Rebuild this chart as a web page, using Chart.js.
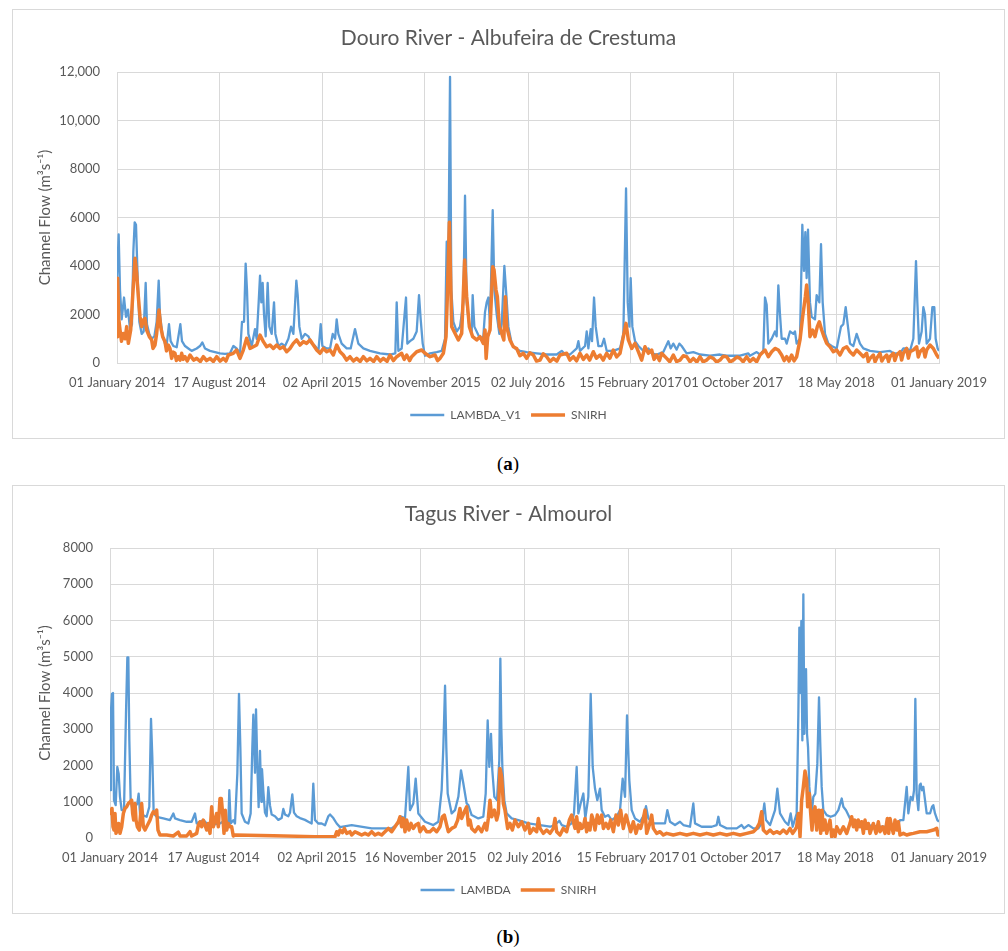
<!DOCTYPE html>
<html>
<head>
<meta charset="utf-8">
<script src="https://cdn.jsdelivr.net/npm/chart.js@4"></script>
<style>
  body { margin: 0; background: #fff; width: 1008px; height: 951px; position: relative; overflow: hidden; }
  .box { position: absolute; left: 12px; width: 991px; border: 1px solid #d9d9d9; background: #fff; }
  .box canvas { display: block; }
  .cap { position: absolute; left: 0; width: 1016px; text-align: center; font-family: "Liberation Serif", serif; font-size: 19px; color: #000; }
</style>
</head>
<body>
<div class="box" style="top:9px;height:428px"><canvas id="douro" width="991" height="428"></canvas></div>
<div class="cap" style="top:453px">(<b>a</b>)</div>
<div class="box" style="top:485px;height:427px"><canvas id="tagus" width="991" height="427"></canvas></div>
<div class="cap" style="top:926px">(<b>b</b>)</div>

<script>
// x axis = days since 01 January 2014
const tickDays = [0, 228, 456, 684, 913, 1141, 1369, 1598, 1826];
const tickLabels = ['01 January 2014', '17 August 2014', '02 April 2015', '16 November 2015', '02 July 2016',
    '15 February 2017', '01 October 2017', '18 May 2018', '01 January 2019'];

const douroTicks = [0, 2000, 4000, 6000, 8000, 10000, 12000];
const tagusTicks = [0, 1000, 2000, 3000, 4000, 5000, 6000, 7000, 8000];

// [day, flow m3/s]
const douroLambda = [[0,3500],[3.7,5300],[6.7,3000],[10.4,1800],[15.6,2700],[20,1900],[24.4,2200],[28.9,1400],[33.3,1600],
    [36.3,4600],[39.3,5800],[42.2,5700],[45.9,3500],[49.6,1700],[54.8,1200],[59.2,1300],[63.7,3300],[66.6,1600],[71.8,1200],
    [77,1000],[83,1100],[88.1,1700],[92.6,3400],[95.5,2000],[100.7,1200],[106.6,800],[110.4,750],[115.5,1600],[119.2,900],
    [125.1,700],[132.6,650],[140.7,1600],[144.4,900],[151.1,700],[158.5,600],[165.9,500],[177,600],[184.4,700],[189.6,850],
    [195.5,600],[206.6,500],[217.7,450],[228.8,400],[239.9,380],[251,400],[258.5,700],[265.8,600],[273.3,400],[277.7,1700],
    [282.2,1700],[285.8,4100],[288.8,3000],[291.8,1200],[299.2,700],[306.6,1400],[310.3,1000],[314.7,2500],[317.7,3600],
    [320.6,2500],[323.6,3300],[326.6,2000],[330.3,1100],[334.7,3300],[338.4,1500],[343.6,1200],[348.8,2500],[351.8,1200],
    [358.4,700],[365.8,800],[373.3,700],[380.7,1000],[386.6,1500],[391.8,1200],[398.4,3400],[401.4,2800],[405.1,1500],
    [410.3,1000],[417.7,1200],[425.1,1100],[432.5,800],[439.9,700],[447.4,500],[452.5,1600],[456.2,700],[465.9,600],
    [473.3,600],[479.2,1200],[484.4,1000],[488,1800],[491.7,1200],[499.1,800],[510.2,600],[519.1,600],[528.7,1400],
    [536.1,800],[547.3,600],[562,500],[584.3,400],[606.5,350],[618.3,400],[621.3,2500],[625,500],[632.4,600],[642,2700],
    [645,800],[650.9,900],[658.3,1000],[665.7,1300],[670.9,2800],[674.6,1800],[679.1,800],[684.3,300],[695.4,400],
    [710.2,450],[721.3,500],[728.7,1000],[732.4,5000],[736.1,4000],[739.8,11800],[742.7,3000],[747.2,1700],[754.6,1300],
    [762,1500],[769.4,2500],[773.1,6900],[776.8,2500],[782.7,1500],[787.9,1300],[790.1,2800],[793.8,1500],[799,1300],
    [806.4,1000],[813.8,1100],[817.5,2100],[821.2,2500],[824.9,2700],[828.6,1600],[834.6,6300],[838.3,3000],[843.5,2000],
    [849.4,1200],[854.6,1600],[860.5,4000],[864.2,3000],[869.4,1500],[876.8,800],[884.2,600],[895.3,500],[910.1,450],
    [932.3,400],[954.5,350],[976.7,350],[987.9,500],[995.3,350],[1006.4,350],[1021.2,600],[1024.9,900],[1028.6,500],
    [1039.7,700],[1043.4,1300],[1047.1,600],[1052.3,1400],[1055.2,900],[1059.7,2700],[1063.4,1500],[1069.3,700],
    [1076.7,700],[1081.9,1000],[1087.8,500],[1102.6,500],[1117.4,600],[1124.8,1200],[1130.8,7200],[1134.5,2500],
    [1138.2,1500],[1141.1,3500],[1144.8,1500],[1150.8,900],[1158.2,700],[1169.3,500],[1180.4,600],[1187.8,400],
    [1198.9,350],[1206.2,400],[1213.6,450],[1224.7,900],[1229.9,600],[1235.8,800],[1243.2,550],[1249.1,800],[1254.3,700],
    [1265.4,400],[1280.3,450],[1295.1,350],[1317.3,300],[1339.5,350],[1354.3,300],[1384,300],[1402.4,400],[1406.1,300],
    [1421,450],[1428.4,350],[1435.8,500],[1439.5,2700],[1443.2,2400],[1446.9,800],[1454.3,1000],[1461.7,1300],
    [1465.4,1100],[1469.1,3200],[1472.8,2000],[1476.5,1000],[1483.9,1000],[1487.6,800],[1495,1300],[1502.4,1200],
    [1506.1,1300],[1509.8,800],[1517.2,1000],[1522.4,5700],[1526.1,3800],[1529.1,5400],[1532,3500],[1535,5500],
    [1539.4,2500],[1543.1,1900],[1550.5,1800],[1554.2,2800],[1560.2,2500],[1563.9,4900],[1567.6,2500],[1572.8,1200],
    [1580.2,800],[1587.6,700],[1598.7,600],[1608.3,1500],[1613.5,1600],[1618.7,2300],[1623.1,1600],[1628.3,800],
    [1635.7,700],[1643.1,1200],[1650.5,800],[1657.9,600],[1672.7,500],[1694.9,450],[1717.1,500],[1724.6,400],
    [1739.4,400],[1746.8,600],[1754.2,600],[1761.6,500],[1769,1000],[1774.9,4200],[1777.9,2500],[1781.6,800],
    [1787.5,1300],[1791.2,2300],[1794.9,2000],[1798.6,800],[1806,1000],[1811.2,2300],[1815.6,2300],[1818.6,1000],
    [1823,600],[1826,500]];

const douroSnirh = [[0,1085],[1.5,3490],[4,1800],[6.7,1360],[10,900],[14.1,1220],[18,1000],[21.5,1500],[25.2,810],[30.4,1360],[34.8,2735],
    [40,4316],[43.7,3700],[47.4,2735],[51.1,1910],[54.8,1500],[58.5,1770],[62.2,1840],[65.9,1360],[71.8,1085],[77,950],
    [80,600],[84.4,740],[88.1,1220],[93.3,2185],[97,1500],[101.5,1085],[106.6,880],[110,500],[114,740],[117.7,600],[121.4,190],[125,450],[128.8,400],
    [132,100],[136.3,260],[140,120],[143.7,400],[147,150],[151.1,260],[156,80],[162.2,330],[170,120],[177,190],[185,60],[191.8,260],[199,100],[206.6,190],[214,60],[221.4,260],[229,80],[236.2,190],[242,80],[247.3,330],
    [258.4,400],[265.8,535],[273.2,190],[280.6,535],[288,1020],[295.5,600],[302.9,670],[310.3,740],[317.7,1150],
    [321.4,1020],[325.1,880],[332.5,670],[339.9,740],[347.3,600],[354.7,740],[362.1,600],[369.5,670],[376.9,465],
    [384.3,600],[391.7,810],[399.1,950],[406.5,740],[413.9,880],[421.3,810],[428.8,950],[436.2,740],[443.6,535],[451,400],
    [458.4,600],[465.8,465],[473.2,535],[480.6,330],[488,740],[495.4,465],[502.8,330],[510,120],[517.6,260],[525,80],[532.4,190],[540,60],[547.2,260],
    [555,90],[562,190],[570,60],[576.9,260],[585,80],[591.7,190],[600,70],[606.5,330],[614,100],[621.3,260],[632.4,400],[638,150],[643.5,330],[650,100],[654.6,260],[665.7,465],[676.8,535],
    [684.2,400],[695.4,260],[706.5,330],[712,100],[717.6,190],[725,400],[730.9,1085],[733.8,2735],[738.3,5800],[743.5,1500],
    [751,1220],[758.3,950],[765.7,1220],[769.4,2870],[772.3,4250],[776.8,2735],[782.7,1500],[790.1,1085],[799,950],
    [806.4,1085],[813.8,810],[817.5,1360],[820,190],[823.5,1085],[828.6,1360],[834.6,3970],[837.5,3835],[841.9,3010],
    [844.9,2735],[849.4,1500],[854.6,1220],[859.3,950],[862.7,2735],[865.6,1500],[873,950],[880.4,670],[887.8,600],
    [895,300],[902.6,400],[910,190],[917,420],[924.8,330],[932,80],[939.6,120],[947,380],[954.4,260],[962,60],[969.3,190],[977,80],[984.1,330],[998.9,400],[1006,120],[1013.7,260],
    [1021,90],[1028.5,400],[1036,150],[1043.3,330],[1050,120],[1058.1,465],[1065,200],[1072.9,330],[1080,120],[1087.7,400],[1095,200],[1102.5,535],[1110,250],[1117.4,400],[1124.8,1085],
    [1130.7,1635],[1135.9,950],[1143.3,600],[1150.7,810],[1158.1,465],[1165.5,120],[1172.9,670],[1180.3,400],
    [1187.7,535],[1193,150],[1198.8,330],[1205,100],[1209.9,400],[1221,190],[1228,50],[1235.8,330],[1243,60],[1250.6,120],[1258,300],[1265.5,260],[1273,50],[1280.3,190],[1288,40],[1295.1,260],
    [1302,50],[1309.9,120],[1317,250],[1324.7,190],[1332,40],[1339.5,120],[1347,280],[1354.3,260],[1362,40],[1369.1,120],[1377,250],[1383.9,190],[1391,50],[1398.7,260],[1406,60],[1413.5,190],[1421,50],[1428.4,330],
    [1439.5,535],[1446.9,260],[1454.3,465],[1461.7,600],[1469.1,535],[1476.5,330],[1482,100],[1487.6,260],[1493,80],[1498.7,330],[1504,90],[1509.8,260],
    [1517.2,950],[1523.1,1910],[1529.1,2735],[1532,3215],[1535.7,2460],[1539.4,1085],[1545.4,1360],[1550.5,1085],
    [1555.7,1500],[1560.2,1700],[1565.4,1360],[1570.5,1085],[1576.5,810],[1583.9,670],[1591.3,465],[1598.7,535],
    [1606.1,330],[1613.5,600],[1620.9,670],[1628.3,465],[1635.7,330],[1643.1,535],[1650.5,400],[1657.9,260],[1665.3,400],
    [1669,60],[1672.7,190],[1680.1,330],[1684,50],[1687.5,190],[1695,400],[1699,80],[1702.4,190],[1709.8,330],[1714,60],[1717.2,260],[1724.6,400],[1728,100],[1732,330],
    [1739.4,465],[1743,120],[1746.8,400],[1754.2,600],[1758,200],[1761.6,465],[1769,535],[1776.4,670],[1780,250],[1783.8,465],[1791.2,600],[1795,250],[1798.6,535],
    [1806,740],[1813.4,600],[1820.9,330],[1826,190]];

const tagusLambda = [[0,1318],[2.2,3515],[4.4,3974],[6.6,4000],[8.8,1045],[12.5,906],[16.1,1960],[19.1,1775],[22,1135],
    [25.7,768],[30.8,768],[35.2,3424],[38.2,4981],[40.4,4981],[42.6,2691],[45.5,1045],[49.9,768],[55.1,860],[60.2,951],
    [63.1,1226],[66.1,677],[71.9,631],[80.7,585],[86.6,860],[90.3,3287],[93.2,2234],[96.2,677],[102.8,585],[117.5,540],
    [132.2,494],[139.5,677],[143.2,540],[154.2,494],[168.9,448],[179.9,448],[187.2,677],[190.9,402],[205.6,494],
    [212.9,402],[220.3,357],[242.3,402],[253.3,494],[260.6,402],[262.8,1318],[265.8,402],[271.6,494],[275.3,402],
    [280.5,1775],[284.1,3974],[287.1,2508],[290,677],[297.3,448],[304.7,402],[309.8,677],[313.5,2500],[315.7,3400],
    [319.4,1800],[321.6,3550],[324.5,2000],[327.4,850],[330.4,2400],[333.3,1000],[334.8,1900],[337.7,1300],[341.4,700],
    [345.1,600],[348.7,1400],[352.4,900],[356.1,650],[363.4,600],[370.7,500],[378.1,550],[381.8,800],[385.4,650],
    [392.8,600],[396.5,700],[401.6,1200],[405.3,700],[411.2,600],[418.5,550],[429.5,500],[436.8,450],[444.2,400],
    [447.8,1500],[451.5,500],[458.8,400],[466.2,400],[473.6,350],[480.9,600],[484.6,650],[491.9,550],[499.3,400],
    [506.6,300],[532.3,357],[576.4,265],[620.4,265],[635.1,403],[642.4,586],[649.8,540],[657.1,1960],[660.8,769],
    [668.1,952],[673.3,1639],[679.1,678],[693.8,449],[712.2,357],[723.2,449],[730.5,1319],[734.2,2500],[738,4200],
    [740.8,2500],[743.8,1227],[752.6,678],[759.9,769],[767.3,1136],[773.1,1868],[778.3,1502],[785.6,952],[789.3,906],
    [796.6,632],[811.3,540],[822.3,586],[827.5,1227],[831.9,3241],[835.5,1960],[839.2,2875],[842.1,1868],[846.6,1136],
    [852.4,1044],[857.5,2143],[859.8,4950],[862,3000],[864.2,1960],[868.6,1044],[873.7,678],[884.7,540],[899.4,495],
    [921.4,403],[947.2,357],[969.2,311],[980.2,357],[989.7,476],[994.9,357],[1005.9,311],[1016.9,403],[1022,678],
    [1027.9,1960],[1031.6,678],[1036.7,952],[1042.6,1227],[1047,540],[1053.6,1136],[1058.8,3974],[1063.2,1960],
    [1068.3,1364],[1073.4,1044],[1079.3,1364],[1083,769],[1090.3,586],[1097.7,632],[1105,495],[1116,586],[1123.4,769],
    [1129.2,1639],[1134.4,1136],[1138.8,3379],[1143.9,1593],[1149.1,769],[1156.4,540],[1167.4,449],[1176.2,632],
    [1180.6,879],[1185.8,540],[1196.8,403],[1222.5,403],[1227.6,769],[1233.5,449],[1244.5,357],[1255.5,449],[1262.9,357],
    [1277.5,311],[1284.9,952],[1288.6,403],[1303.2,311],[1325.3,311],[1336.3,357],[1340,586],[1343.6,357],[1358.3,265],
    [1380.3,265],[1391.3,357],[1396.5,265],[1406,357],[1417.1,265],[1428.1,265],[1435.4,403],[1441.3,952],[1444.9,495],
    [1453.8,357],[1464.8,769],[1469.9,1364],[1475.8,678],[1486.8,449],[1494.1,357],[1499.3,678],[1503.7,311],
    [1512.5,677],[1516.2,3424],[1518.4,5805],[1520.6,4000],[1522.8,5988],[1525,2691],[1527.2,6721],[1529.4,2874],
    [1531.6,4340],[1533.1,4660],[1535.3,2874],[1537.5,2508],[1540.4,1410],[1545.6,677],[1549.2,1135],[1553.6,1226],
    [1558,2051],[1561.7,3882],[1564.7,2508],[1567.6,1410],[1571.3,768],[1578.6,631],[1587.4,585],[1597,631],[1604.3,768],
    [1611.7,1090],[1615.3,860],[1621.2,768],[1630,540],[1637.3,494],[1644.7,448],[1652,402],[1666.7,357],[1696.1,311],
    [1725.4,311],[1736.5,402],[1740.1,494],[1747.5,494],[1754.8,1410],[1758.5,677],[1763.6,1135],[1768,1044],[1771,1318],
    [1773.9,3836],[1776.8,1226],[1780.5,768],[1783.4,1455],[1785.6,1501],[1788.6,1318],[1791.5,1410],[1795.2,1044],
    [1798.9,677],[1806.2,677],[1810.6,860],[1813.5,906],[1817.2,677],[1822.4,494],[1826,448]];

const tagusSnirh = [[0,768],[2.2,677],[4.4,815],[6.6,311],[8.8,219],[11,677],[13.2,128],[16.1,219],[19.1,402],[22,128],
    [25.7,311],[29.4,677],[33,815],[36.7,860],[40.4,951],[44,997],[47.7,1043],[49.9,677],[52.1,494],[55.1,951],[57.3,494],
    [60.2,311],[64.6,219],[67.5,677],[69.7,951],[73.4,311],[77.1,219],[80.7,311],[84.4,402],[88.1,494],[91.8,631],
    [95.4,723],[99.1,677],[102.8,768],[105.7,219],[110.1,82],[124.8,82],[139.5,55],[150.5,160],[154.2,55],[168.9,55],
    [176.2,174],[179.9,55],[190.9,128],[194.6,357],[198.2,448],[201.9,311],[205.6,494],[209.2,357],[212.9,219],
    [216.6,402],[220.3,128],[223.9,860],[227.6,311],[231.3,494],[234.9,677],[238.6,311],[242.3,1090],[245.2,1090],
    [248.1,677],[251.1,128],[254,768],[257,219],[260.6,402],[264.3,311],[268,311],[271.6,55],[275.3,82],[360,64],
    [451.5,37],[495.6,37],[499.3,174],[503,82],[506.6,220],[511.8,146],[516.2,265],[521.3,128],[528.6,174],[532.3,82],
    [539.7,174],[547,128],[554.3,82],[561.7,128],[569,82],[576.4,174],[583.7,82],[591,128],[598.4,82],[605.7,174],
    [613.1,265],[620.4,174],[627.8,311],[635.1,449],[638.8,586],[642.4,311],[646.1,540],[649.8,174],[653.5,495],
    [658.6,220],[663,403],[668.1,265],[673.3,357],[679.1,403],[682.8,174],[690.2,311],[697.5,174],[704.8,174],
    [712.2,265],[719.5,174],[726.9,311],[732,586],[736.4,632],[741.6,357],[745.2,174],[752.6,265],[759.9,311],
    [765.8,495],[770.9,815],[774.6,540],[780.5,723],[785.6,861],[789.3,357],[793,495],[796.6,265],[804,174],[811.3,311],
    [818.6,174],[826,403],[829.7,220],[833.3,540],[837,1044],[840.7,586],[846.6,769],[851.7,495],[855.4,678],[859,1914],
    [862.7,1685],[866.4,952],[870,769],[875.9,265],[881,403],[886.2,220],[892.1,495],[899.4,311],[906.8,449],[914.1,220],
    [921.4,403],[925.1,128],[932.5,265],[939.8,174],[943.5,540],[947.2,265],[954.5,128],[961.8,220],[969.2,128],
    [976.5,265],[980.2,540],[983.9,174],[991.2,82],[998.5,265],[1005.9,174],[1011.8,495],[1016.9,632],[1020.6,449],
    [1024.2,265],[1027.9,586],[1031.6,174],[1035.3,403],[1038.9,265],[1042.6,311],[1046.3,540],[1049.9,174],[1053.6,403],
    [1057.3,220],[1061,632],[1064.6,495],[1068.3,220],[1073.4,632],[1077.8,403],[1083,632],[1086.7,265],[1092.5,403],
    [1097.7,265],[1102.8,495],[1108.7,174],[1114.6,632],[1119.7,357],[1124.8,769],[1130.7,265],[1136.6,632],[1141.7,403],
    [1146.9,174],[1152.7,449],[1158.6,128],[1163.7,357],[1168.9,265],[1174.8,540],[1178.4,769],[1182.1,128],[1188,357],
    [1193.1,632],[1196.8,265],[1204.1,128],[1211.5,174],[1218.8,82],[1226.1,128],[1240.8,82],[1255.5,128],[1270.2,82],
    [1284.9,128],[1299.6,82],[1314.3,128],[1329,82],[1343.6,128],[1358.3,82],[1373,128],[1387.7,82],[1402.4,128],
    [1417.1,174],[1424.4,265],[1430.3,403],[1435.4,723],[1439.1,220],[1446.4,128],[1453.8,220],[1461.1,128],[1468.4,174],
    [1475.8,128],[1483.1,220],[1490.5,128],[1497.8,265],[1503.7,128],[1508.8,220],[1512.5,311],[1516.2,677],[1519.9,36],
    [1523.5,1043],[1527.2,1410],[1530.9,1850],[1534.5,1593],[1536.7,860],[1540.4,1226],[1543.4,677],[1546.3,219],
    [1549.2,677],[1552.9,860],[1556.6,219],[1560.2,768],[1562.4,768],[1565.4,128],[1568.3,768],[1571.3,219],[1574.9,494],
    [1578.6,128],[1585.9,494],[1589.6,36],[1593.3,219],[1597,36],[1600.6,311],[1608,128],[1615.3,311],[1622.7,128],
    [1630,402],[1633.7,585],[1637.3,311],[1641,494],[1644.7,219],[1648.3,494],[1652,311],[1655.7,448],[1659.4,128],
    [1663,494],[1666.7,265],[1670.4,402],[1674,128],[1681.4,402],[1687.3,128],[1692.4,448],[1696.1,174],[1701.9,311],
    [1707.1,128],[1712.2,540],[1715.2,128],[1718.1,540],[1721.8,311],[1725.4,128],[1729.1,494],[1732.8,219],[1736.5,448],
    [1740.1,82],[1747.5,128],[1754.8,82],[1762.2,110],[1769.5,128],[1784.2,174],[1798.9,174],[1813.5,219],[1820.9,265],
    [1823.8,82],[1826,219]];

Chart.defaults.font.family = 'Lato';
Chart.defaults.color = '#595959';

const BLUE = '#5b9bd5';
const ORANGE = '#ed7d31';
const GRID = '#d9d9d9';

function toXY(pairs) {
    return pairs.map(p => ({ x: p[0], y: p[1] }));
}

function makeChart(id, title, lambdaName, lambdaData, snirhData, yTicks, yAxisWidth) {
    const ctx = document.getElementById(id).getContext('2d');
    return new Chart(ctx, {
        type: 'line',
        data: {
            // SNIRH first so it is painted on top of the model line
            datasets: [{
                    label: 'SNIRH',
                    data: toXY(snirhData),
                    borderColor: ORANGE,
                    backgroundColor: ORANGE,
                    borderWidth: 3.5,
                    pointRadius: 0,
                    borderJoinStyle: 'round',
                    tension: 0
                },
                {
                    label: lambdaName,
                    data: toXY(lambdaData),
                    borderColor: BLUE,
                    backgroundColor: BLUE,
                    borderWidth: 2.3,
                    pointRadius: 0,
                    borderJoinStyle: 'round',
                    tension: 0
                }
            ]
        },
        options: {
            responsive: false,
            animation: false,
            layout: { padding: { left: 0, right: 0, top: 0, bottom: 7 } },
            plugins: {
                title: {
                    display: true,
                    text: title,
                    color: '#595959',
                    font: { size: 21, weight: 'normal' },
                    padding: { top: 15.4, bottom: 21.4 }
                },
                legend: {
                    position: 'bottom',
                    labels: {
                        usePointStyle: true,
                        pointStyle: 'line',
                        pointStyleWidth: 34,
                        color: '#595959',
                        font: { size: 12 },
                        padding: 10,
                        sort: (a, b) => b.datasetIndex - a.datasetIndex
                    }
                },
                tooltip: { enabled: false }
            },
            scales: {
                x: {
                    type: 'linear',
                    min: tickDays[0],
                    max: tickDays[tickDays.length - 1],
                    afterBuildTicks: (scale) => {
                        scale.ticks = tickDays.map(d => ({ value: d }));
                    },
                    afterFit: (scale) => {
                        scale.height = 36;
                    },
                    ticks: {
                        autoSkip: false,
                        maxRotation: 0,
                        padding: 12,
                        color: '#595959',
                        font: { size: 13 },
                        callback: (value, index) => tickLabels[index]
                    },
                    grid: { color: GRID, lineWidth: 1, drawTicks: false },
                    border: { color: GRID }
                },
                y: {
                    min: yTicks[0],
                    max: yTicks[yTicks.length - 1],
                    afterBuildTicks: (scale) => {
                        scale.ticks = yTicks.map(v => ({ value: v }));
                    },
                    afterFit: (scale) => {
                        scale.width = yAxisWidth;
                    },
                    ticks: {
                        padding: 17,
                        color: '#595959',
                        font: { size: 13 },
                        callback: (value) => value >= 10000 ? value.toLocaleString('en-US') : String(value)
                    },
                    grid: { color: GRID, lineWidth: 1, drawTicks: false },
                    border: { display: false },
                    title: {
                        display: true,
                        text: 'Channel Flow (m\u00b3s\u207b\u00b9)',
                        color: '#595959',
                        font: { size: 15 },
                        padding: { top: 23, bottom: 0 }
                    }
                },
                // empty strip on the right so title and legend stay centred on the whole box
                spacer: {
                    type: 'linear',
                    position: 'right',
                    grid: { display: false },
                    border: { display: false },
                    ticks: { display: false },
                    afterFit: (scale) => {
                        scale.width = 65;
                    }
                }
            }
        }
    });
}

makeChart('douro', 'Douro River - Albufeira de Crestuma', 'LAMBDA_V1', douroLambda, douroSnirh, douroTicks, 104);
makeChart('tagus', 'Tagus River - Almourol', 'LAMBDA', tagusLambda, tagusSnirh, tagusTicks, 97);
</script>
</body>
</html>
